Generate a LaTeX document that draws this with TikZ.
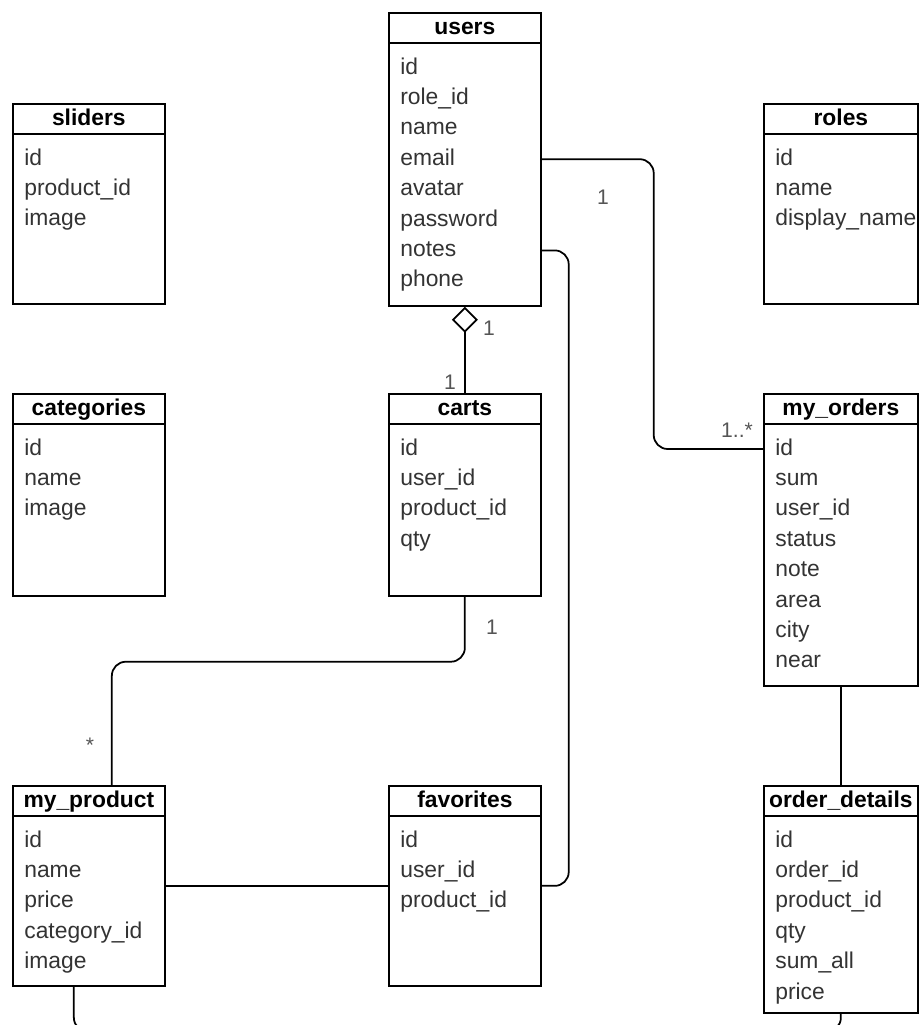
\documentclass[tikz,border=0pt]{standalone}
\usepackage{fontspec}
\setmainfont{Liberation Sans}
\usetikzlibrary{calc,arrows.meta}

\definecolor{fieldgray}{HTML}{333333}
\definecolor{multgray}{HTML}{555555}

\tikzset{
    tbl/.style={draw, line width=1pt, anchor=north west, inner sep=0pt},
    title/.style={font=\fontsize{13}{15}\selectfont\bfseries, inner sep=0pt,
        text height=9.5pt, text depth=2.5pt},
    field/.style={anchor=west, inner sep=0pt, text height=9.5pt, text depth=2.5pt,
        text=fieldgray, font=\fontsize{13}{15}\selectfont},
    conn/.style={line width=1pt, rounded corners=0.28cm},
    mult/.style={text=multgray, font=\fontsize{12}{14}\selectfont, inner sep=0pt}
}

% one table: name, x, y, width, height, title, fields
\newcommand{\dbtable}[7]{%
    \node[tbl, minimum width=#4, minimum height=#5] (#1) at (#2,#3) {};
    \node[title] (#1-title) at ($(#1.north)+(0,16)$) {#6};
    \draw[line width=1pt] ($(#1.north west)+(0,31)$) -- ($(#1.north east)+(0,31)$);
    \foreach \f [count=\i] in {#7}
        \node[field] (#1-\i) at ($(#1.north west)+(12,{56+(\i-1)*30.4})$) {\f};
}

\begin{document}
\begin{tikzpicture}[x=0.02cm, y=-0.02cm]
    \useasboundingbox (0,0) rectangle (919,1025);
    \clip (0,0) rectangle (919,1025);

    % tables
    \dbtable{users}{388}{12}{3.04cm}{5.86cm}{users}{id,role\_id,name,email,avatar,password,notes,phone}
    \dbtable{sliders}{12}{103}{3.04cm}{4.0cm}{sliders}{id,product\_id,image}
    \dbtable{roles}{763}{103}{3.08cm}{4.0cm}{roles}{id,name,display\_name}
    \dbtable{categories}{12}{393}{3.04cm}{4.04cm}{categories}{id,name,image}
    \dbtable{carts}{388}{393}{3.04cm}{4.04cm}{carts}{id,user\_id,product\_id,qty}
    \dbtable{orders}{763}{393}{3.08cm}{5.84cm}{my\_orders}{id,sum,user\_id,status,note,area,city,near}
    \dbtable{product}{12}{785}{3.04cm}{4.0cm}{my\_product}{id,name,price,category\_id,image}
    \dbtable{fav}{388}{785}{3.04cm}{4.0cm}{favorites}{id,user\_id,product\_id}
    \dbtable{details}{763}{785}{3.08cm}{4.54cm}{order\_details}{id,order\_id,product\_id,qty,sum\_all,price}

    % relations
    \draw[conn] (users-4 -| users.east) -- ++(112,0) |- (orders-1 -| orders.west);
    \draw[conn] (users-7 -| users.east) -- ++(27,0) |- (fav.east);
    \draw[line width=1pt, {Diamond[open, line join=miter, length=0.52cm, width=0.52cm]}-] (users.south) -- (carts.north);
    \draw[conn] (carts.south) -- ++(0,65) -| ([xshift=0.46cm]product.north);
    \draw[conn] (product.east) -- (fav.west);
    \draw[conn] (orders.south) -- (details.north);
    \draw[conn] ([xshift=-0.3cm]product.south) -- ++(0,45) -| (details.south);

    % multiplicities
    \node[mult] (m-email) at (603,197) {1};
    \node[mult] (m-orders) at (737,430) {1..*};
    \node[mult] (m-users) at (489,328) {1};
    \node[mult] (m-carts) at (450,382) {1};
    \node[mult] (m-cartsb) at (492,627) {1};
    \node[mult] (m-product) at (90,745) {*};
\end{tikzpicture}
\end{document}
